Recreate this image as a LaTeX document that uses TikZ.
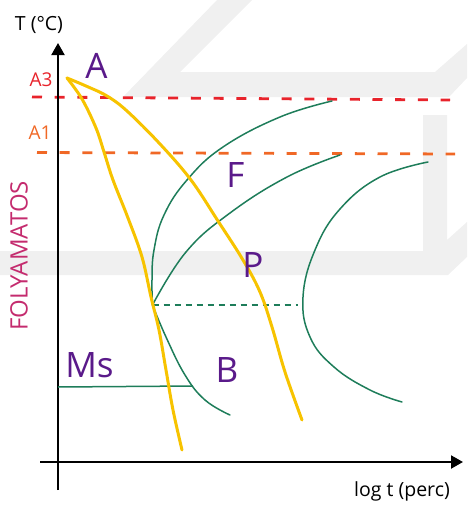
\documentclass[tikz,border=0pt]{standalone}
\usepackage{fontspec}
\setmainfont{Open Sans}
\usetikzlibrary{arrows.meta}
\definecolor{wm}{HTML}{F0F0F0}
\definecolor{cred}{HTML}{E8232B}
\definecolor{corange}{HTML}{F06826}
\definecolor{cyellow}{HTML}{F7C300}
\definecolor{cgreen}{HTML}{1E7D5A}
\definecolor{cpurple}{HTML}{5A1A8A}
\definecolor{cmagenta}{HTML}{C42B6E}
\tikzset{
  axisline/.style={line width=2pt,black,-{Triangle[length=12pt,width=13pt]}},
  critline/.style={line width=2.8pt,dash pattern=on 10pt off 12.7pt},
  ycurve/.style={line width=3pt,cyellow,line cap=round,line join=round},
  gcurve/.style={line width=1.5pt,cgreen,line cap=round,line join=round},
  phase/.style={text=cpurple,font=\fontsize{35}{40}\selectfont,inner sep=0pt},
  axislabel/.style={font=\fontsize{19.5}{23}\selectfont,inner sep=0pt},
  templabel/.style={font=\fontsize{19}{22}\selectfont,inner sep=0pt}
}
\begin{document}
\begin{tikzpicture}[x=1pt,y=-1pt]
\useasboundingbox (0,0) rectangle (467,506);
% watermark
\fill[wm] (123,97) -- (217,0) -- (252,0) -- (180,72) -- (435,72) -- (467,44) -- (467,78) -- (449,97) -- cycle;
\fill[wm] (423,115) -- (447,115) -- (447,240) -- (467,222) -- (467,257) -- (448,275) -- (0,275) -- (0,251) -- (423,251) -- cycle;
% critical lines
\coordinate (a3l) at (32,97); \coordinate (a3r) at (450,100);
\coordinate (a1l) at (37,152.5); \coordinate (a1r) at (455,154);
\draw[critline,cred] (a3l) -- (a3r);
\draw[critline,corange] (a1l) -- (a1r);
% axes
\coordinate (o1) at (58,490); \coordinate (ytip) at (58,43);
\coordinate (o2) at (40,462); \coordinate (xtip) at (463,462);
\draw[axisline] (o1) -- (ytip);
\draw[axisline] (o2) -- (xtip);
% green curves
\coordinate (nose) at (152.5,305);
\draw[gcurve] plot[smooth,tension=0.7] coordinates {(332,101) (280,117) (223,147) (187,180) (164,215) (154,250) (152,280) (nose)};
\draw[gcurve] plot[smooth,tension=0.7] coordinates {(340,155) (287,177) (230,213) (186,252) (nose)};
\draw[gcurve] plot[smooth,tension=0.7] coordinates {(nose) (166,337) (185,375) (205,400) (230,415)};
\draw[gcurve] plot[smooth,tension=0.7] coordinates {(428,162) (380,177) (340,209) (315,250) (303,297) (310,337) (334,367) (370,390) (402,402)};
\coordinate (ms1) at (58,387); \coordinate (ms2) at (193,386);
\draw[gcurve,line cap=butt] (ms1) -- (ms2);
\coordinate (dend) at (298,305);
\draw[line width=1.5pt,cgreen,dash pattern=on 6pt off 5pt] (nose) -- (dend);
% yellow curves
\draw[ycurve] plot[smooth,tension=0.6] coordinates {(67,78) (82,99) (96,128) (104,152) (113,180) (128,218) (142,257) (151,297) (159,330) (166,370) (173,410) (182,450)};
\draw[ycurve] plot[smooth,tension=0.6] coordinates {(67,78) (86,86) (107,96) (127,111) (160,144) (191,180) (218,221) (243,260) (260,292) (272,327) (285,372) (302,420)};
% labels
\node[axislabel] (tlab) at (39,25) {T (°C)};
\node[axislabel] (tlog) at (402,491) {log t (perc)};
\node[templabel,text=cred] (la3) at (41,80) {A3};
\node[templabel,text=corange] (la1) at (40,133) {A1};
\node[text=cmagenta,font=\fontsize{24}{28}\selectfont,inner sep=0pt,rotate=90] (folya) at (19,256) {FOLYAMATOS};
\node[phase] (lA) at (96.5,65.5) {A};
\node[phase] (lF) at (235.5,175) {F};
\node[phase] (lP) at (253,265) {P};
\node[phase] (lB) at (227,370.5) {B};
\node[phase] (lMs) at (89.5,365) {Ms};
\end{tikzpicture}
\end{document}
